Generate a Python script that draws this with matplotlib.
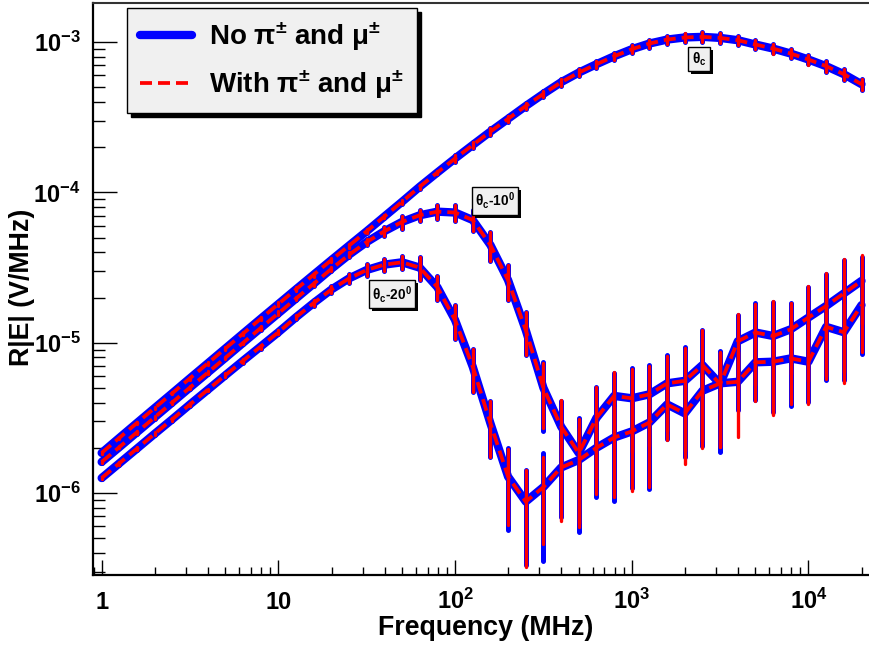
import matplotlib.pyplot as plt
import matplotlib.ticker as mticker
import matplotlib.patheffects as pe
import numpy as np

plt.rcParams['font.family'] = ['Liberation Sans', 'DejaVu Sans']
plt.rcParams['font.weight'] = 'bold'
plt.rcParams['mathtext.fontset'] = 'custom'
plt.rcParams['mathtext.default'] = 'regular'

# frequency points (MHz)
freq = [1, 1.259, 1.585, 1.995, 2.512, 3.162, 3.981, 5.012, 6.31, 7.943,
        10, 12.59, 15.85, 19.95, 25.12, 31.62, 39.81, 50.12, 63.1, 79.43,
        100, 125.9, 158.5, 199.5, 251.2, 316.2, 398.1, 501.2, 631, 794.3,
        1000, 1259, 1585, 1995, 2512, 3162, 3981, 5012, 6310, 7943,
        10000, 12589, 15849, 19953]

# R|E| (V/MHz) at theta_c, theta_c-10, theta_c-20
theta_c = [1.85e-6, 2.33e-6, 2.93e-6, 3.68e-6, 4.62e-6, 5.81e-6, 7.29e-6, 9.16e-6, 1.151e-5, 1.445e-5,
           1.81e-5, 2.27e-5, 2.84e-5, 3.55e-5, 4.43e-5, 5.52e-5, 6.92e-5, 8.67e-5, 1.092e-4, 1.358e-4,
           1.683e-4, 2.07e-4, 2.54e-4, 3.09e-4, 3.76e-4, 4.53e-4, 5.41e-4, 6.27e-4, 7.13e-4, 8.05e-4,
           8.97e-4, 9.79e-4, 1.04e-3, 1.074e-3, 1.084e-3, 1.067e-3, 1.03e-3, 9.64e-4, 9.06e-4, 8.39e-4,
           7.66e-4, 6.92e-4, 6.12e-4, 5.25e-4]
theta_c10 = [1.61e-6, 2.02e-6, 2.54e-6, 3.19e-6, 4.01e-6, 5.04e-6, 6.32e-6, 7.94e-6, 9.98e-6, 1.253e-5,
             1.57e-5, 1.97e-5, 2.47e-5, 3.10e-5, 3.85e-5, 4.68e-5, 5.52e-5, 6.37e-5, 7.05e-5, 7.45e-5,
             7.35e-5, 6.55e-5, 4.47e-5, 2.61e-5, 1.213e-5, 5.01e-6, 2.77e-6, 1.845e-6, 3.16e-6, 4.43e-6,
             4.27e-6, 4.54e-6, 5.37e-6, 5.58e-6, 7.11e-6, 5.31e-6, 1.023e-5, 1.17e-5, 1.109e-5, 1.23e-5,
             1.472e-5, 1.758e-5, 2.13e-5, 2.58e-5]
theta_c20 = [1.259e-6, 1.578e-6, 1.977e-6, 2.48e-6, 3.10e-6, 3.89e-6, 4.86e-6, 6.08e-6, 7.59e-6, 9.44e-6,
             1.175e-5, 1.479e-5, 1.84e-5, 2.26e-5, 2.68e-5, 3.05e-5, 3.31e-5, 3.43e-5, 3.16e-5, 2.34e-5,
             1.416e-5, 6.92e-6, 2.91e-6, 1.285e-6, 8.77e-7, 1.096e-6, 1.479e-6, 1.66e-6, 2.0e-6, 2.34e-6,
             2.57e-6, 2.95e-6, 3.89e-6, 3.39e-6, 4.79e-6, 5.37e-6, 5.50e-6, 7.41e-6, 7.48e-6, 7.87e-6,
             7.48e-6, 1.276e-5, 1.175e-5, 1.78e-5]

# relative errors (%), without / with pions and muons
err_c_no = [2, 2, 2, 2, 2, 2, 2, 2, 2, 2, 3, 3, 3, 3, 3, 3, 3, 3, 3, 3, 5, 5,
            5, 5, 5, 5, 5, 5, 5, 5, 6, 6, 6, 6, 7, 7, 7, 7, 7, 7, 7, 8, 8, 8]
err_c_with = [2, 2, 2, 2, 2, 2, 2, 2, 2, 2, 3, 3, 3, 3, 3, 3, 3, 3, 3, 3, 5, 5,
              5, 5, 5, 5, 5, 5, 5, 5, 6, 6, 6, 7, 7, 7, 7, 7, 8, 7, 8, 8, 8, 8]
err_c10_no = [2, 2, 2, 2, 2, 2, 2, 2, 2, 3, 3, 3, 3, 3, 4, 5, 7, 10, 9, 11, 12, 16,
              22, 26, 32, 48, 47, 70, 61, 42, 58, 57, 54, 68, 71, 64, 49, 56, 69, 49, 60, 64, 67, 45]
err_c10_with = [2, 2, 2, 2, 2, 2, 2, 2, 2, 3, 3, 3, 3, 3, 4, 5, 7, 10, 9, 11, 12, 16,
                22, 26, 32, 46, 50, 68, 60, 44, 56, 55, 52, 66, 72, 62, 52, 55, 70, 50, 62, 66, 70, 48]
err_c20_no = [2, 2, 2, 2, 2, 2, 2, 3, 3, 3, 3, 3, 4, 5, 7, 9, 9, 10, 17, 18, 25, 32,
              40, 56, 62, 68, 53, 64, 53, 62, 58, 64, 41, 49, 52, 65, 35, 44, 52, 52, 46, 56, 52, 53]
err_c20_with = [2, 2, 2, 2, 2, 2, 2, 3, 3, 3, 3, 3, 4, 5, 7, 9, 9, 10, 17, 18, 25, 32,
                40, 52, 63, 58, 56, 62, 51, 60, 60, 63, 42, 54, 54, 62, 57, 45, 55, 50, 48, 55, 54, 51]

labels = ['θ$_{c}$', 'θ$_{c}$-10$^{0}$', 'θ$_{c}$-20$^{0}$']
label_pos = [(2400, 7.7e-4), (168, 8.8e-5), (44, 2.1e-5)]

fig = plt.figure(figsize=(8.69, 6.46), dpi=100)
ax = fig.add_axes([0.107, 0.1099, 0.893, 0.8854])
ax.set_xscale('log')
ax.set_yscale('log')

f = np.array(freq)
curves = [(theta_c, err_c_no, err_c_with),
          (theta_c10, err_c10_no, err_c10_with),
          (theta_c20, err_c20_no, err_c20_with)]

# blue: no pions/muons
for vals, e_no, e_with in curves:
    v = np.array(vals)
    hb, = ax.plot(f, v, color='#0000ff', lw=6, solid_joinstyle='round',
                  solid_capstyle='round', zorder=2)
    eb = ax.errorbar(f, v, yerr=v * np.array(e_no) / 100, fmt='none',
                     ecolor='#0000ff', elinewidth=3.6, zorder=3)
    eb[2][0].set_capstyle('round')

# red: with pions/muons
for vals, e_no, e_with in curves:
    v = np.array(vals)
    hr, = ax.plot(f, v, color='#ff0000', lw=2.7, dashes=(3.2, 1.6), zorder=4)
    eb = ax.errorbar(f, v, yerr=v * np.array(e_with) / 100, fmt='none',
                     ecolor='#ff0000', elinewidth=2.4, zorder=5)
    eb[2][0].set_capstyle('round')

ax.set_xlim(0.893, 2.2e4)
ax.set_ylim(2.85e-7, 1.82e-3)

ax.set_xticks([1, 10, 100, 1000, 10000])
ax.set_xticklabels(['1', '10', '$10^{2}$', '$10^{3}$', '$10^{4}$'])
ax.set_yticks([1e-6, 1e-5, 1e-4, 1e-3])
ax.set_yticklabels(['$10^{-6}$', '$10^{-5}$', '$10^{-4}$', '$10^{-3}$'])
ax.xaxis.set_minor_locator(mticker.LogLocator(base=10, subs=np.arange(2, 10), numticks=50))
ax.yaxis.set_minor_locator(mticker.LogLocator(base=10, subs=np.arange(2, 10), numticks=50))
ax.xaxis.set_minor_formatter(mticker.NullFormatter())
ax.yaxis.set_minor_formatter(mticker.NullFormatter())

ax.tick_params(axis='y', which='major', direction='in', length=17, width=1, labelsize=17, pad=9)
ax.tick_params(axis='y', which='minor', direction='in', length=8.6, width=1)
ax.tick_params(axis='x', which='major', direction='in', length=11, width=1, labelsize=17, pad=24.5)
ax.tick_params(axis='x', which='minor', direction='in', length=5.5, width=1)
for lab in ax.get_xticklabels():
    lab.set_va('baseline')

for side in ['left', 'bottom']:
    ax.spines[side].set_linewidth(1.6)
    ax.spines[side].set_color('black')
ax.spines['top'].set_linewidth(1.5)
ax.spines['top'].set_color('#333333')
ax.spines['right'].set_visible(False)

ax.set_xlabel('Frequency (MHz)', fontsize=19.3, fontweight='bold')
ax.xaxis.set_label_coords(0.506, -0.07)
ax.set_ylabel('R|E| (V/MHz)', fontsize=19.3, fontweight='bold')
ax.yaxis.set_label_coords(-0.075, 0.503)

# boxed labels with a black shadow
for txt, (lx, ly) in zip(labels, label_pos):
    t = ax.text(lx, ly, txt, fontsize=9.8, ha='center', va='center', color='black', zorder=10,
                bbox=dict(boxstyle='square,pad=0.25', fc='#f0f0f0', ec='black', lw=1))
    t.get_bbox_patch().set_path_effects([
        pe.SimplePatchShadow(offset=(2.2, -2.2), shadow_rgbFace='black', alpha=1),
        pe.Normal()])

leg = ax.legend([hb, hr], ['No π$^{\\pm}$ and μ$^{\\pm}$', 'With π$^{\\pm}$ and μ$^{\\pm}$'],
                loc='upper left', bbox_to_anchor=(0.044, 0.991), borderaxespad=0,
                prop={'size': 20, 'weight': 'bold'}, handlelength=1.9, handletextpad=0.6,
                labelspacing=0.55, borderpad=0.45, fancybox=False, framealpha=1,
                edgecolor='black', facecolor='#f0f0f0',
                shadow={'ox': 3, 'oy': -3, 'facecolor': 'black', 'edgecolor': 'black', 'alpha': 1})
leg.get_frame().set_linewidth(1)
leg.set_zorder(20)

fig.savefig('out.png', dpi=100)
